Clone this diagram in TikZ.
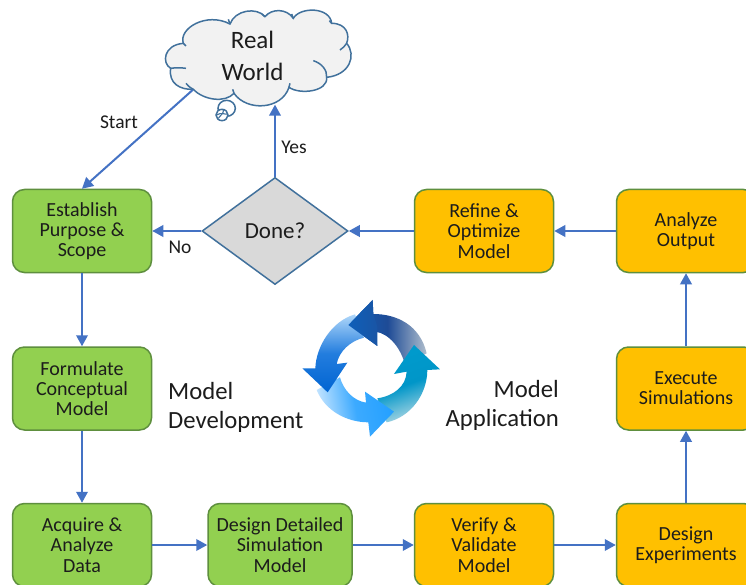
\documentclass[tikz,border=0pt]{standalone}
\usepackage{fontspec}
\setmainfont{Carlito}
\usetikzlibrary{arrows.meta,shapes.geometric}
\definecolor{linkblue}{HTML}{4472C4}
\definecolor{edgeblue}{HTML}{41719C}
\definecolor{boxedge}{HTML}{5E8F3E}
\definecolor{ink}{HTML}{1C1C1C}
\tikzset{
  x=1pt,y=-1pt,
  procbox/.style={draw=boxedge,line width=1.5pt,rounded corners=12pt,minimum height=83pt,inner sep=0pt,align=center,text=ink,font=\fontsize{20}{20.3}\selectfont},
  greenbox/.style={procbox,fill={rgb,255:red,146;green,208;blue,80},minimum width=139pt},
  orangebox/.style={procbox,fill={rgb,255:red,255;green,192;blue,0},minimum width=139pt},
  link/.style={draw=linkblue,line width=2pt,-{Triangle[width=11.5pt,length=11pt]}},
  decision/.style={diamond,draw=edgeblue,line width=1.5pt,fill={rgb,255:red,217;green,217;blue,217},minimum width=146pt,minimum height=107pt,inner sep=0pt,text=ink,font=\fontsize{23}{24}\selectfont},
  lbl/.style={inner sep=0pt,text=ink,font=\fontsize{19.5}{20}\selectfont},
  biglbl/.style={inner sep=0pt,text=ink,font=\fontsize{24.7}{29}\selectfont},
  cloudline/.style={draw=edgeblue,line width=1.5pt},
  zoomA/.style={shift={(150,0)},x=0.3333pt,y=-0.3333pt},
  zoomB/.style={shift={(290,290)},x=0.3333pt,y=-0.3333pt},
}
\begin{document}
\begin{tikzpicture}
\clip (0,0) rectangle (746,585);
\fill[white] (0,0) rectangle (746,585);
% cloud
\begin{scope}[zoomA]
\path[cloudline,fill={rgb,255:red,242;green,242;blue,242}]
  (130,268) .. controls (90,270) and (55,250) .. (62,205)
  .. controls (35,190) and (40,135) .. (100,130)
  .. controls (85,85) and (170,35) .. (240,72)
  .. controls (255,30) and (320,20) .. (345,50)
  .. controls (365,25) and (410,25) .. (430,55)
  .. controls (450,20) and (540,20) .. (545,70)
  .. controls (590,70) and (600,105) .. (590,130)
  .. controls (620,165) and (600,225) .. (530,232)
  .. controls (535,275) and (450,285) .. (417,262)
  .. controls (395,330) and (290,335) .. (252,280)
  .. controls (225,310) and (160,300) .. (130,268) -- cycle;
\draw[cloudline] (130,268) .. controls (118,262) and (112,255) .. (108,250);
\draw[cloudline] (62,205) .. controls (75,203) and (95,203) .. (108,205);
\draw[cloudline] (100,130) .. controls (102,133) and (105,136) .. (108,138);
\draw[cloudline] (240,72) .. controls (238,66) and (236,62) .. (235,58);
\draw[cloudline] (345,50) .. controls (342,47) and (339,44) .. (336,42);
\draw[cloudline] (430,55) .. controls (428,50) and (426,47) .. (425,42);
\draw[cloudline] (545,70) .. controls (543,66) and (541,64) .. (538,62);
\draw[cloudline] (590,130) .. controls (585,138) and (578,145) .. (570,150);
\draw[cloudline] (530,232) .. controls (532,210) and (515,190) .. (490,182);
\draw[cloudline] (417,262) .. controls (419,258) and (420,255) .. (420,250);
\draw[cloudline] (252,280) .. controls (250,275) and (249,272) .. (248,268);
\draw[cloudline,fill=white] (230,325) ellipse [x radius=26,y radius=24];
\draw[cloudline,fill=white] (216,345) ellipse [x radius=18,y radius=17];
\draw[cloudline,line width=1.1pt] (200,345) .. controls (215,335) and (225,345) .. (233,342);
\draw[cloudline,line width=1.1pt] (205,355) .. controls (212,345) and (222,340) .. (220,330);
\coordinate (cloudstart) at (128,270);
\coordinate (cloudbase) at (375,314);
\end{scope}
\node[inner sep=0pt,text=ink,align=center,font=\fontsize{25}{32}\selectfont] (realworld) at (252.5,56) {Real\\World};
% boxes
\node[greenbox] (establish) at (82,231) {Establish\\Purpose \&\\Scope};
\node[greenbox] (formulate) at (82,388.5) {Formulate\\Conceptual\\Model};
\node[greenbox] (acquire) at (82,545) {Acquire \&\\Analyze\\Data};
\node[greenbox,minimum width=144pt] (detailed) at (280,545) {Design Detailed\\Simulation\\Model};
\node[orangebox] (verify) at (484,545) {Verify \&\\Validate\\Model};
\node[orangebox] (experiments) at (686,545) {Design\\Experiments};
\node[orangebox] (execute) at (686,388.5) {Execute\\Simulations};
\node[orangebox] (analyze) at (686,231) {Analyze\\Output};
\node[orangebox] (refine) at (484,231) {Refine \&\\Optimize\\Model};
\node[decision] (done) at (275,231) {Done?};
% connectors
\draw[link] (cloudstart) -- (establish.north);
\draw[link] (done.north) -- (cloudbase -| done.north);
\draw[link] (done.west) -- (establish.east);
\draw[link] (refine.west) -- (done.east);
\draw[link] (analyze.west) -- (refine.east);
\draw[link] (execute.north) -- (analyze.south);
\draw[link] (experiments.north) -- (execute.south);
\draw[link] (verify.east) -- (experiments.west);
\draw[link] (detailed.east) -- (verify.west);
\draw[link] (acquire.east) -- (detailed.west);
\draw[link] (formulate.south) -- (acquire.north);
\draw[link] (establish.south) -- (formulate.north);
% labels
\node[lbl] (startlbl) at (119,122) {Start};
\node[lbl] (yeslbl) at (294,147) {Yes};
\node[lbl] (nolbl) at (180,247) {No};
\node[biglbl,anchor=west,align=left] (devlbl) at (168,407) {Model\\Development};
\node[biglbl,anchor=east,align=right] (applbl) at (559,405) {Model\\Application};
% cycle arrows
\begin{scope}[zoomB]
\shade[left color={rgb,255:red,15;green,95;blue,185},right color={rgb,255:red,175;green,190;blue,205},middle color={rgb,255:red,30;green,75;blue,150}]
  (175,105) -- (248,30) -- (250,72) .. controls (320,72) and (390,105) .. (410,190)
  -- (345,225) .. controls (335,180) and (300,130) .. (255,125) -- (262,168) -- cycle;
\shade[top color={rgb,255:red,0;green,155;blue,205},bottom color={rgb,255:red,185;green,220;blue,230},middle color={rgb,255:red,0;green,150;blue,200},shading angle=20]
  (372,165) -- (450,238) -- (412,240) .. controls (412,312) and (362,382) .. (290,397)
  -- (262,325) .. controls (310,318) and (348,290) .. (350,245) -- (312,252) -- cycle;
\shade[left color={rgb,255:red,200;green,230;blue,255},right color={rgb,255:red,35;green,160;blue,255},middle color={rgb,255:red,60;green,170;blue,255},shading angle=100]
  (312,365) -- (240,440) -- (235,397) .. controls (170,397) and (105,362) .. (80,300)
  -- (150,262) .. controls (160,300) and (190,332) .. (228,338) -- (225,305) -- cycle;
\shade[top color={rgb,255:red,175;green,215;blue,250},bottom color={rgb,255:red,0;green,100;blue,210},middle color={rgb,255:red,35;green,125;blue,222},shading angle=0]
  (113,307) -- (37,235) -- (76,235) .. controls (78,170) and (125,93) .. (195,73)
  -- (222,143) .. controls (180,153) and (147,185) .. (140,222) -- (172,218) -- cycle;
\shade[left color={rgb,255:red,15;green,95;blue,185},right color={rgb,255:red,25;green,85;blue,165}]
  (175,105) -- (248,30) -- (250,72) -- (262,110) -- (262,168) -- cycle;
\end{scope}
\end{tikzpicture}
\end{document}
